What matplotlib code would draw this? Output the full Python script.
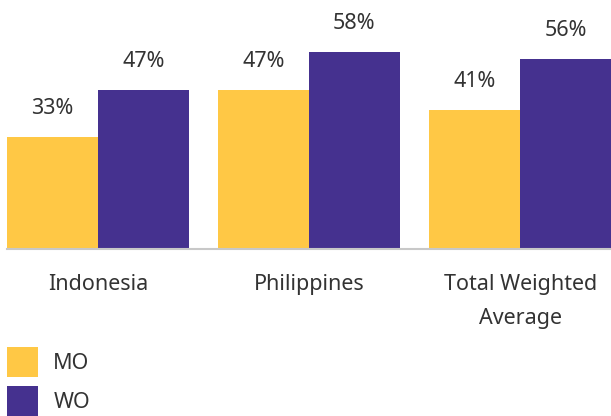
"""
Grouped bar chart: MO vs WO share by country.
"""
import matplotlib
matplotlib.use('Agg')
import matplotlib.pyplot as plt
import numpy as np

plt.rcParams['font.family'] = ['Noto Sans', 'DejaVu Sans']

categories = ['Indonesia', 'Philippines', 'Total Weighted\nAverage']
mo = [33, 47, 41]
wo = [47, 58, 56]

yellow = '#FFC845'
purple = '#45318F'
text_col = '#333333'

fig = plt.figure(figsize=(6.11, 4.16), dpi=100)
ax = fig.add_axes([7 / 611, 167 / 416, 604 / 611, 249 / 416])

x = np.arange(len(categories))
w = 0.43
b1 = ax.bar(x - w / 2, mo, w, color=yellow, label='MO')
b2 = ax.bar(x + w / 2, wo, w, color=purple, label='WO')

for bars, vals in [(b1, mo), (b2, wo)]:
    for bar, v in zip(bars, vals):
        ax.annotate(f'{v}%', xy=(bar.get_x() + bar.get_width() / 2, v),
                    xytext=(0, 13), textcoords='offset points',
                    ha='center', va='bottom', fontsize=15.5, color=text_col)

ax.set_xlim(-0.43, 2.43)
ax.set_ylim(0, 73.4)
ax.set_yticks([])
ax.set_xticks(x)
ax.set_xticklabels(categories, fontsize=15.5, color=text_col, linespacing=1.8)
ax.tick_params(axis='x', length=0, pad=18)
for s in ['top', 'left', 'right']:
    ax.spines[s].set_visible(False)
ax.spines['bottom'].set_color('#c8c8c8')
ax.spines['bottom'].set_linewidth(1.5)

fig.legend(handles=[b1, b2], loc='upper left',
           bbox_to_anchor=(7 / 611, 1 - 347 / 416),
           frameon=False, fontsize=15.5, borderpad=0, borderaxespad=0,
           handlelength=1.45, handleheight=1.8, handletextpad=0.7,
           labelspacing=0.4, labelcolor=text_col)

fig.savefig('out.png', dpi=100)
